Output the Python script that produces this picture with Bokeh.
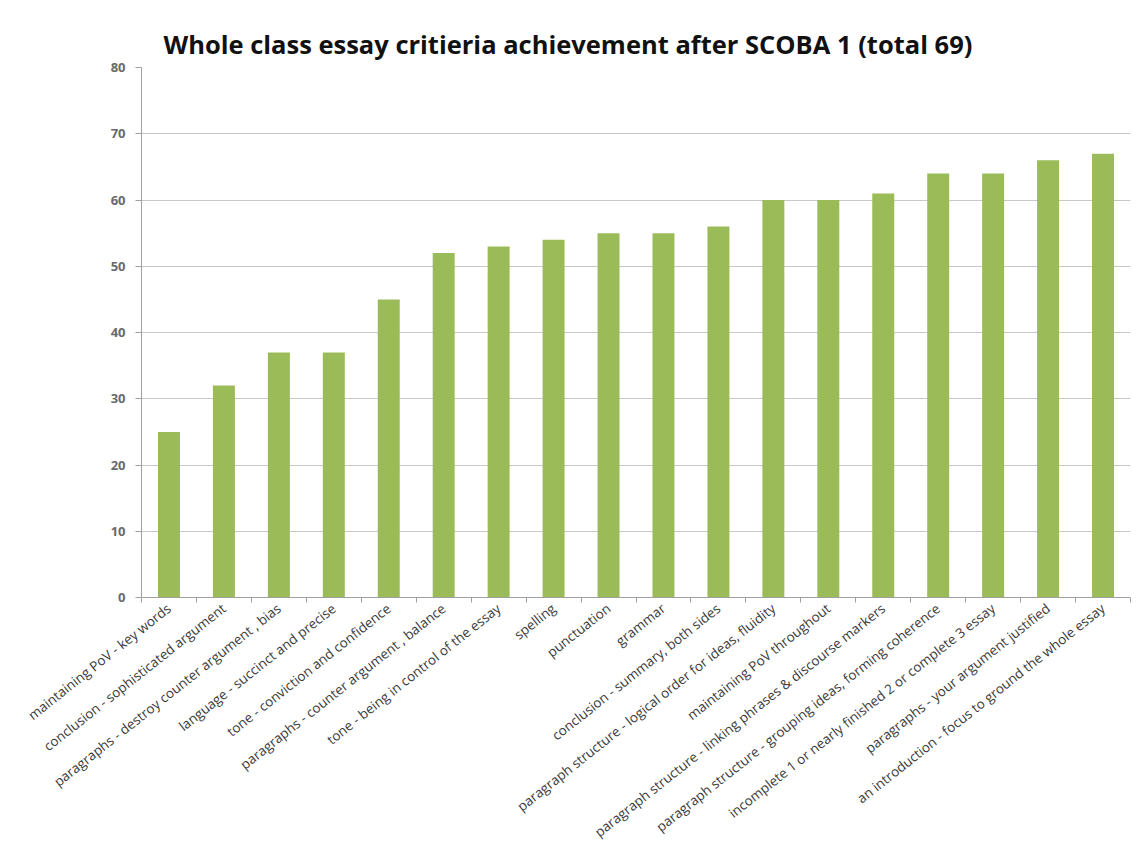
from bokeh.plotting import figure
from bokeh.models import FixedTicker, Range1d
from bokeh.embed import file_html
from bokeh.resources import INLINE

title_text = "Whole class essay critieria achievement after SCOBA 1 (total 69)"

categories = [
    "maintaining PoV - key words",
    "conclusion - sophisticated argument",
    "paragraphs - destroy counter argument , bias",
    "language - succinct and precise",
    "tone - conviction and confidence",
    "paragraphs - counter argument , balance",
    "tone - being in control of the essay",
    "spelling",
    "punctuation",
    "grammar",
    "conclusion - summary, both sides",
    "paragraph structure - logical order for ideas, fluidity",
    "maintaining PoV throughout",
    "paragraph structure - linking phrases & discourse markers",
    "paragraph structure - grouping ideas, forming coherence",
    "incomplete 1 or nearly finished 2 or complete 3 essay",
    "paragraphs - your argument justified",
    "an introduction - focus to ground the whole essay",
]
values = [25, 32, 37, 37, 45, 52, 53, 54, 55, 55, 56, 60, 60, 61, 64, 64, 66, 67]
y_ticks = [0, 10, 20, 30, 40, 50, 60, 70, 80]

n = len(categories)
xs = list(range(n))
boundaries = [i - 0.5 for i in range(n + 1)]

p = figure(
    width=1146, height=851,
    output_backend="svg", toolbar_location=None,
    x_range=Range1d(-0.5, n - 0.5), y_range=Range1d(0, 80),
    title=title_text,
    min_border_left=141, min_border_right=16,
    min_border_top=67, min_border_bottom=254,
    background_fill_color="white", border_fill_color="white",
)
p.outline_line_color = None

p.title.text_font = "Open Sans"
p.title.text_font_size = "25.5px"
p.title.text_font_style = "bold"
p.title.text_color = "#111111"
p.title.align = "left"
p.title.offset = 22
p.title.standoff = 14

p.vbar(x=xs, top=values, width=0.4, fill_color="#9bbb59", line_color=None)

# x axis
xa = p.xaxis[0]
xa.ticker = FixedTicker(ticks=xs, minor_ticks=boundaries)
xa.major_label_overrides = {i: c for i, c in zip(xs, categories)}
xa.major_label_orientation = 0.67
xa.major_label_text_font = "Open Sans"
xa.major_label_text_font_size = "13.5px"
xa.major_label_text_color = "#3a3a3a"
xa.major_tick_line_color = None
xa.major_tick_out = 0
xa.major_tick_in = 0
xa.minor_tick_line_color = "#a0a0a0"
xa.minor_tick_out = 5
xa.minor_tick_in = 0
xa.axis_line_color = "#a0a0a0"
xa.major_label_standoff = 4

# y axis
ya = p.yaxis[0]
ya.ticker = FixedTicker(ticks=y_ticks)
ya.major_label_text_font = "Open Sans"
ya.major_label_text_font_size = "13px"
ya.major_label_text_font_style = "bold"
ya.major_label_text_color = "#6a6a6a"
ya.axis_line_color = "#a0a0a0"
ya.major_tick_line_color = "#a0a0a0"
ya.major_tick_out = 6
ya.major_tick_in = 0
ya.minor_tick_line_color = None
ya.major_label_standoff = 10

p.xgrid.visible = False
p.ygrid.ticker = FixedTicker(ticks=y_ticks)
p.ygrid.grid_line_color = "#c8c8c8"

open("out.html", "w").write(file_html(p, INLINE))
